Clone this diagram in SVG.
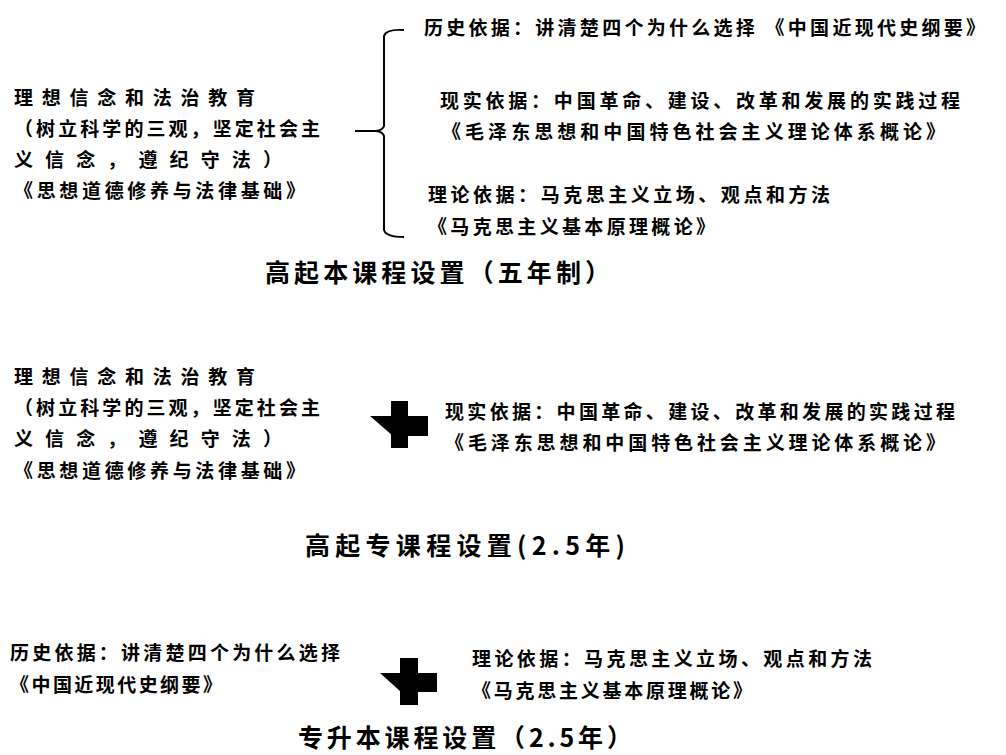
<svg xmlns="http://www.w3.org/2000/svg" width="1006" height="755" viewBox="0 0 1006 755">
<style>
text{font-family:"Noto Sans CJK SC","Noto Sans",sans-serif;font-weight:bold;font-size:19px;fill:#000}
.t{font-size:25px}
.ln{fill:none;stroke:#000;stroke-width:2}
</style>
<rect width="1006" height="755" fill="#fff"/>
<g id="connectors">
<path class="ln" d="M404,30 Q386,29 384,36 L384,126 Q383,130 376,131 L355,131 M376,131 Q383,132 384,136 L384,230 Q386,237 404,237"/>
</g>
<g id="s1-left">
<text x="14" y="105" textLength="241" lengthAdjust="spacing">理想信念和法治教育</text>
<text x="14" y="136" textLength="306" lengthAdjust="spacing">（树立科学的三观，坚定社会主</text>
<text x="14" y="167" textLength="268" lengthAdjust="spacing">义信念，遵纪守法）</text>
<text x="14" y="198" textLength="291" lengthAdjust="spacing">《思想道德修养与法律基础》</text>
</g>
<g id="s1-right">
<text x="424" y="35" textLength="561" lengthAdjust="spacing">历史依据：讲清楚四个为什么选择 《中国近现代史纲要》</text>
<text x="440" y="108" textLength="520" lengthAdjust="spacing">现实依据：中国革命、建设、改革和发展的实践过程</text>
<text x="442" y="139" textLength="503" lengthAdjust="spacing">《毛泽东思想和中国特色社会主义理论体系概论》</text>
<text x="428" y="202" textLength="402" lengthAdjust="spacing">理论依据：马克思主义立场、观点和方法</text>
<text x="428" y="234" textLength="287" lengthAdjust="spacing">《马克思主义基本原理概论》</text>
</g>
<g id="title1"><text class="t" x="265" y="282" textLength="345" lengthAdjust="spacing">高起本课程设置（五年制）</text></g>
<g id="s2-left">
<text x="14" y="384" textLength="241" lengthAdjust="spacing">理想信念和法治教育</text>
<text x="14" y="415" textLength="306" lengthAdjust="spacing">（树立科学的三观，坚定社会主</text>
<text x="14" y="446" textLength="268" lengthAdjust="spacing">义信念，遵纪守法）</text>
<text x="14" y="478" textLength="291" lengthAdjust="spacing">《思想道德修养与法律基础》</text>
</g>
<g id="plus1"><path d="M391,401 L408,401 L408,416 L428,416 L428,436 L408,436 L408,448 L391,448 L391,436 Z"/><path d="M392,416 L370,416 L393,436 Z"/></g>
<g id="s2-right">
<text x="445" y="419" textLength="510" lengthAdjust="spacing">现实依据：中国革命、建设、改革和发展的实践过程</text>
<text x="445" y="450" textLength="500" lengthAdjust="spacing">《毛泽东思想和中国特色社会主义理论体系概论》</text>
</g>
<g id="title2"><text class="t" x="305" y="555" textLength="320" lengthAdjust="spacing">高起专课程设置(2.5年)</text></g>
<g id="s3-left">
<text x="10" y="660" textLength="330" lengthAdjust="spacing">历史依据：讲清楚四个为什么选择</text>
<text x="10" y="692" textLength="212" lengthAdjust="spacing">《中国近现代史纲要》</text>
</g>
<g id="plus2"><path d="M400,658 L418,658 L418,673 L437,673 L437,692 L418,692 L418,705 L400,705 L400,692 Z"/><path d="M401,673 L380,673 L401,692 Z"/></g>
<g id="s3-right">
<text x="472" y="666" textLength="400" lengthAdjust="spacing">理论依据：马克思主义立场、观点和方法</text>
<text x="472" y="698" textLength="280" lengthAdjust="spacing">《马克思主义基本原理概论》</text>
</g>
<g id="title3"><text class="t" x="298" y="747" textLength="334" lengthAdjust="spacing">专升本课程设置（2.5年）</text></g>
</svg>
